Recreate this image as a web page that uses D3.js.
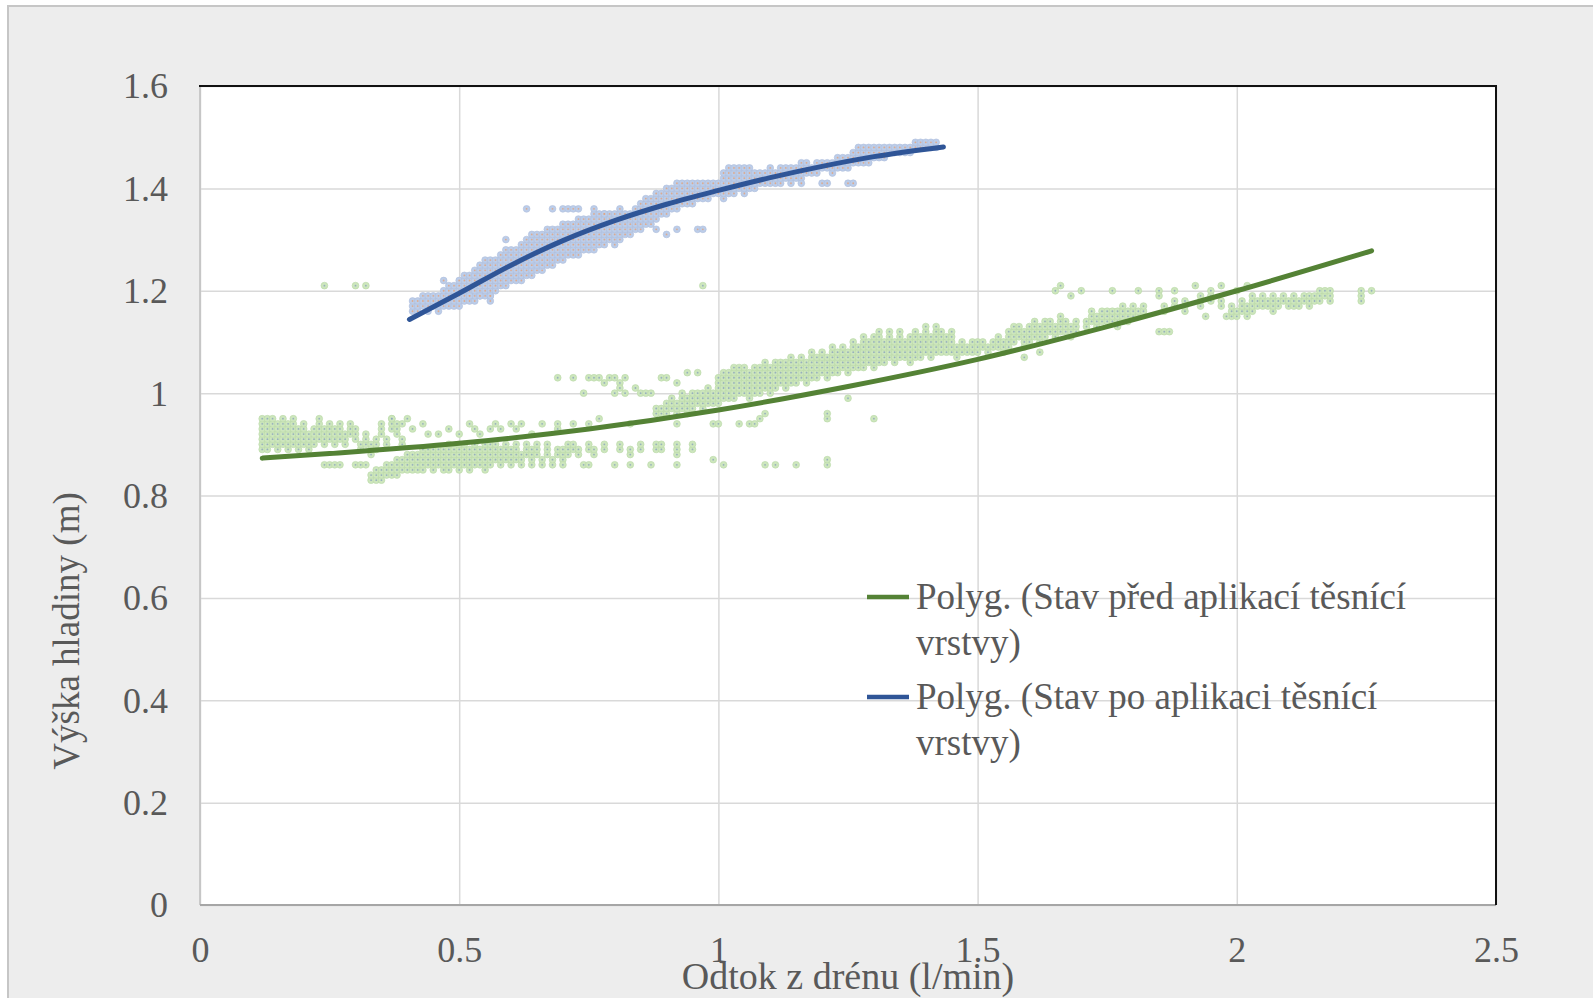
<!DOCTYPE html>
<html>
<head>
<meta charset="utf-8">
<script src="https://cdn.jsdelivr.net/npm/d3@7/dist/d3.min.js"></script>
<style>
  body { margin: 0; background: #ffffff; }
  text { font-family: "Liberation Serif", "DejaVu Serif", serif; fill: #595959; }
</style>
</head>
<body>
<div id="chart"></div>
<script>
// axis ticks
var xTicks = [0, 0.5, 1, 1.5, 2, 2.5];
var yTicks = [0, 0.2, 0.4, 0.6, 0.8, 1, 1.2, 1.4, 1.6];
var xTitle = "Odtok z drénu (l/min)";
var yTitle = "Výška hladiny (m)";
var legendNames = ["Polyg. (Stav před aplikací těsnící|vrstvy)", "Polyg. (Stav po aplikaci těsnící|vrstvy)"];

// scatter "after" (blue): vertical runs of readings [x, yLow, yHigh], 0.01 m resolution
var afterRuns = [
  [0.41,1.16,1.18],[0.42,1.16,1.18],[0.43,1.17,1.19],[0.44,1.16,1.19],[0.45,1.17,1.19],[0.46,1.16,1.19],
  [0.47,1.17,1.20],[0.48,1.17,1.21],[0.49,1.17,1.21],[0.50,1.17,1.22],[0.51,1.18,1.23],[0.52,1.18,1.23],
  [0.53,1.18,1.24],[0.54,1.19,1.25],[0.55,1.19,1.26],[0.56,1.18,1.26],[0.57,1.20,1.26],[0.58,1.21,1.27],
  [0.59,1.21,1.28],[0.60,1.22,1.28],[0.61,1.22,1.28],[0.62,1.22,1.29],[0.63,1.23,1.30],[0.64,1.23,1.31],
  [0.65,1.24,1.31],[0.66,1.24,1.31],[0.67,1.25,1.32],[0.68,1.25,1.32],[0.69,1.26,1.32],[0.70,1.26,1.33],
  [0.71,1.27,1.33],[0.72,1.27,1.33],[0.73,1.27,1.34],[0.74,1.28,1.34],[0.75,1.28,1.34],[0.76,1.28,1.35],
  [0.77,1.29,1.35],[0.78,1.29,1.35],[0.79,1.30,1.35],[0.80,1.29,1.35],[0.81,1.30,1.36],[0.82,1.31,1.35],
  [0.83,1.31,1.35],[0.84,1.32,1.36],[0.85,1.32,1.37],[0.86,1.33,1.38],[0.87,1.33,1.38],[0.88,1.34,1.39],
  [0.89,1.35,1.39],[0.90,1.35,1.40],[0.91,1.36,1.40],[0.92,1.36,1.41],[0.93,1.37,1.41],[0.94,1.37,1.41],
  [0.95,1.37,1.41],[0.96,1.38,1.41],[0.97,1.38,1.41],[0.98,1.38,1.41],[0.99,1.39,1.41],[1.00,1.39,1.41],
  [1.01,1.38,1.43],[1.02,1.39,1.44],[1.03,1.39,1.44],[1.04,1.40,1.44],[1.05,1.39,1.44],[1.06,1.40,1.44],
  [1.07,1.40,1.43],[1.08,1.41,1.43],[1.09,1.41,1.43],[1.10,1.41,1.44],[1.11,1.41,1.43],[1.12,1.41,1.44],
  [1.13,1.42,1.44],[1.14,1.42,1.44],[1.15,1.42,1.44],[1.16,1.42,1.45],[1.17,1.43,1.45],[1.18,1.43,1.44],
  [1.19,1.43,1.45],[1.20,1.44,1.45],[1.21,1.44,1.45],[1.22,1.43,1.45],[1.23,1.44,1.46],[1.24,1.44,1.46],
  [1.25,1.44,1.46],[1.26,1.45,1.47],[1.27,1.45,1.48],[1.28,1.45,1.48],[1.29,1.45,1.48],[1.30,1.46,1.48],
  [1.31,1.46,1.48],[1.32,1.46,1.48],[1.33,1.47,1.48],[1.34,1.47,1.48],[1.35,1.47,1.48],[1.36,1.47,1.48],
  [1.37,1.47,1.48],[1.38,1.48,1.49],[1.39,1.48,1.49],[1.40,1.48,1.49],[1.41,1.48,1.49],[1.42,1.48,1.49]
];
var afterPoints = [
  [0.47,1.22],[0.52,1.19],[0.54,1.19],[0.56,1.19],[0.59,1.30],[0.63,1.36],[0.68,1.36],[0.70,1.36],
  [0.71,1.36],[0.72,1.36],[0.73,1.36],[0.76,1.36],[0.78,1.35],[0.88,1.32],[0.90,1.31],[0.92,1.32],
  [0.96,1.32],[0.97,1.32],[1.14,1.41],[1.16,1.41],[1.20,1.41],[1.21,1.41],[1.25,1.41],[1.26,1.41]
];

// scatter "before" (green)
var beforeRuns = [
  [0.12,0.89,0.95],[0.13,0.89,0.95],[0.14,0.90,0.95],[0.15,0.89,0.94],[0.16,0.90,0.95],[0.17,0.89,0.94],
  [0.18,0.90,0.95],[0.19,0.89,0.93],[0.20,0.90,0.94],[0.21,0.89,0.92],[0.22,0.90,0.93],[0.23,0.91,0.95],
  [0.24,0.90,0.93],[0.25,0.91,0.94],[0.26,0.90,0.93],[0.27,0.91,0.94],[0.28,0.90,0.92],[0.29,0.92,0.94],
  [0.30,0.91,0.93],[0.31,0.89,0.90],[0.32,0.90,0.92],[0.33,0.88,0.90],[0.34,0.89,0.91],[0.35,0.92,0.94],
  [0.36,0.90,0.91],[0.37,0.93,0.95],[0.38,0.92,0.94],[0.39,0.90,0.91],
  [0.33,0.83,0.84],[0.34,0.83,0.85],[0.35,0.83,0.85],[0.36,0.84,0.86],[0.37,0.84,0.86],[0.38,0.84,0.87],
  [0.39,0.85,0.87],[0.40,0.85,0.88],[0.41,0.85,0.88],[0.42,0.85,0.88],[0.43,0.85,0.89],[0.44,0.86,0.89],
  [0.45,0.85,0.89],[0.46,0.86,0.89],[0.47,0.85,0.89],[0.48,0.85,0.90],[0.49,0.86,0.89],[0.50,0.85,0.90],
  [0.51,0.86,0.90],[0.52,0.85,0.89],[0.53,0.86,0.90],[0.54,0.86,0.89],[0.55,0.85,0.90],[0.56,0.86,0.90],
  [0.57,0.87,0.90],[0.58,0.86,0.89],[0.59,0.87,0.90],[0.60,0.86,0.89],[0.61,0.87,0.90],[0.62,0.86,0.88],
  [0.63,0.88,0.90],[0.64,0.86,0.89],[0.65,0.88,0.90],[0.66,0.86,0.87],[0.67,0.88,0.90],[0.68,0.86,0.87],
  [0.69,0.88,0.89],[0.70,0.87,0.89],[0.71,0.88,0.90],[0.72,0.89,0.90],[0.73,0.88,0.89],[0.75,0.89,0.90],
  [0.76,0.88,0.89],[0.78,0.89,0.90],[0.81,0.89,0.90],[0.83,0.88,0.89],[0.85,0.89,0.90],[0.88,0.89,0.90],
  [0.89,0.89,0.90],[0.92,0.88,0.90],[0.95,0.89,0.90],
  [0.88,0.96,0.97],[0.89,0.96,0.97],[0.90,0.96,0.98],[0.91,0.97,0.99],[0.92,0.96,0.98],[0.93,0.97,1.00],
  [0.94,0.96,0.99],[0.95,0.97,1.00],[0.96,0.98,1.00],[0.97,0.97,1.00],[0.98,0.98,1.01],[0.99,0.98,1.00],
  [1.00,0.98,1.03],[1.01,0.99,1.04],[1.02,0.99,1.04],[1.03,0.99,1.05],[1.04,1.00,1.05],[1.05,1.00,1.05],
  [1.06,0.99,1.04],[1.07,1.00,1.05],[1.08,1.00,1.05],[1.09,1.01,1.06],[1.10,1.00,1.05],[1.11,1.01,1.06],
  [1.12,1.02,1.06],[1.13,1.01,1.06],[1.14,1.02,1.07],[1.15,1.02,1.06],[1.16,1.03,1.07],[1.17,1.02,1.06],
  [1.18,1.03,1.08],[1.19,1.03,1.07],[1.20,1.04,1.08],[1.21,1.03,1.07],[1.22,1.04,1.09],[1.23,1.04,1.08],
  [1.24,1.05,1.09],[1.25,1.04,1.08],[1.26,1.05,1.10],[1.27,1.05,1.09],[1.28,1.05,1.11],[1.29,1.06,1.10],
  [1.30,1.05,1.11],[1.31,1.06,1.12],[1.32,1.06,1.10],[1.33,1.07,1.12],[1.34,1.06,1.10],[1.35,1.07,1.12],
  [1.36,1.07,1.10],[1.37,1.06,1.11],[1.38,1.07,1.12],[1.39,1.07,1.11],[1.40,1.08,1.13],[1.41,1.07,1.11],
  [1.42,1.08,1.13],[1.43,1.08,1.12],[1.44,1.08,1.11],[1.45,1.08,1.12],[1.46,1.07,1.09],[1.47,1.08,1.10],
  [1.48,1.08,1.09],[1.49,1.08,1.10],[1.50,1.08,1.10],[1.51,1.09,1.10],[1.52,1.08,1.09],[1.53,1.09,1.10],
  [1.54,1.09,1.11],[1.55,1.08,1.10],[1.56,1.09,1.12],[1.57,1.10,1.13],[1.58,1.11,1.13],[1.59,1.09,1.12],
  [1.60,1.10,1.13],[1.61,1.11,1.14],[1.62,1.10,1.13],[1.63,1.11,1.14],[1.64,1.12,1.14],[1.65,1.11,1.13],
  [1.66,1.12,1.15],[1.67,1.12,1.14],[1.68,1.11,1.13],[1.69,1.12,1.14],[1.71,1.13,1.14],[1.72,1.14,1.16],
  [1.73,1.13,1.15],[1.74,1.14,1.16],[1.75,1.14,1.16],[1.76,1.14,1.16],[1.77,1.13,1.16],[1.78,1.14,1.17],
  [1.79,1.14,1.16],[1.80,1.15,1.17],[1.81,1.15,1.16],[1.82,1.16,1.17],[1.86,1.16,1.17],[1.88,1.17,1.18],
  [1.90,1.16,1.18],[1.93,1.17,1.19],[1.95,1.18,1.19],[1.97,1.17,1.18],[1.99,1.15,1.17],[2.00,1.15,1.16],
  [2.01,1.16,1.18],[2.02,1.15,1.17],[2.03,1.16,1.19],[2.04,1.17,1.18],[2.05,1.17,1.19],[2.06,1.17,1.18],
  [2.07,1.16,1.19],[2.08,1.17,1.18],[2.09,1.18,1.19],[2.10,1.17,1.18],[2.11,1.17,1.19],[2.12,1.17,1.18],
  [2.13,1.18,1.19],[2.14,1.17,1.19],[2.15,1.18,1.19],[2.16,1.18,1.20],[2.17,1.19,1.20],[2.18,1.18,1.20],
  [2.24,1.18,1.20]
];
var beforePoints = [
  [0.24,1.21],[0.30,1.21],[0.32,1.21],[0.97,1.21],[2.26,1.20],
  [0.24,0.86],[0.25,0.86],[0.26,0.86],[0.27,0.86],[0.30,0.86],[0.31,0.86],[0.32,0.86],
  [0.37,0.95],[0.39,0.94],[0.40,0.95],[0.41,0.93],[0.43,0.94],[0.44,0.92],[0.46,0.92],[0.48,0.93],
  [0.50,0.92],[0.52,0.94],[0.53,0.93],[0.54,0.92],[0.56,0.93],[0.57,0.94],[0.58,0.93],[0.60,0.94],
  [0.61,0.93],[0.62,0.94],[0.64,0.92],[0.66,0.94],[0.69,0.93],
  [0.69,1.03],[0.72,1.03],[0.75,1.03],[0.76,1.03],[0.77,1.03],[0.78,1.02],[0.79,1.03],[0.80,1.03],
  [0.81,1.02],[0.82,1.03],[0.89,1.03],[0.90,1.03],[0.92,1.02],[0.94,1.04],[0.96,1.04],
  [0.74,1.00],[0.80,1.00],[0.81,1.01],[0.82,1.00],[0.84,1.01],[0.85,1.00],[0.86,1.00],[0.87,1.00],
  [0.69,0.94],[0.72,0.94],[0.75,0.94],[0.77,0.95],[0.83,0.94],[0.92,0.94],[0.99,0.94],[1.00,0.94],
  [1.04,0.94],[1.06,0.94],[1.07,0.94],[1.08,0.95],[1.09,0.96],
  [0.70,0.86],[0.74,0.86],[0.75,0.86],[0.80,0.86],[0.83,0.86],[0.87,0.86],[0.92,0.86],[0.99,0.87],
  [1.01,0.86],[1.09,0.86],[1.11,0.86],[1.15,0.86],[1.21,0.86],[1.21,0.87],
  [1.21,0.95],[1.21,0.96],[1.25,0.99],[1.30,0.95],
  [1.59,1.07],[1.62,1.08],[1.65,1.20],[1.66,1.21],[1.68,1.19],[1.70,1.20],[1.76,1.20],[1.81,1.20],
  [1.85,1.20],[1.85,1.19],[1.88,1.20],[1.92,1.21],[1.95,1.20],[1.97,1.21],[2.00,1.20],[2.02,1.21],
  [1.85,1.12],[1.86,1.12],[1.87,1.12],[1.94,1.15],[1.98,1.15]
];

// polynomial trend lines
var beforeTrend = [[0.12,0.873],[0.25,0.882],[0.5,0.902],[0.75,0.930],[1.0,0.967],[1.25,1.013],
                   [1.5,1.066],[1.75,1.130],[2.0,1.200],[2.26,1.278]];
var afterTrend = [[0.404,1.144],[0.5,1.195],[0.6,1.250],[0.7,1.298],[0.8,1.337],[0.9,1.369],
                  [1.0,1.396],[1.1,1.421],[1.2,1.443],[1.3,1.462],[1.434,1.481]];

var width = 1593, height = 998;
var margin = {top: 86, right: 97, bottom: 93, left: 200};
var widthG = width - margin.left - margin.right;
var heightG = height - margin.top - margin.bottom;

var svg = d3.select("#chart").append("svg")
  .attr("width", width)
  .attr("height", height)
  .style("display", "block");

// chart frame
svg.append("rect")
  .attr("x", 8).attr("y", 6)
  .attr("width", width).attr("height", height)
  .attr("fill", "#ededed")
  .attr("stroke", "#c6c6c6")
  .attr("stroke-width", 2);

var g = svg.append("g")
  .attr("transform", "translate(" + margin.left + "," + margin.top + ")");

var x = d3.scaleLinear().domain([0, 2.5]).range([0, widthG]);
var y = d3.scaleLinear().domain([0, 1.6]).range([heightG, 0]);

g.append("rect")
  .attr("width", widthG).attr("height", heightG)
  .attr("fill", "#ffffff");

// gridlines
var gx = g.append("g")
  .attr("transform", "translate(0," + heightG + ")")
  .call(d3.axisBottom(x).tickValues(xTicks).tickSize(-heightG).tickFormat(""));
var gy = g.append("g")
  .call(d3.axisLeft(y).tickValues(yTicks).tickSize(-widthG).tickFormat(""));
[gx, gy].forEach(function(a) {
  a.select(".domain").remove();
  a.selectAll("line").attr("stroke", "#d9d9d9").attr("stroke-width", 1.5);
});

// plot border: gray left/bottom, black top/right
g.append("line").attr("x1", 0).attr("x2", 0).attr("y1", 0).attr("y2", heightG)
  .attr("stroke", "#bfbfbf").attr("stroke-width", 1.5);
g.append("line").attr("x1", 0).attr("x2", widthG).attr("y1", heightG).attr("y2", heightG)
  .attr("stroke", "#a6a6a6").attr("stroke-width", 2);
g.append("line").attr("x1", -1).attr("x2", widthG + 1).attr("y1", 0).attr("y2", 0)
  .attr("stroke", "#111").attr("stroke-width", 2);
g.append("line").attr("x1", widthG).attr("x2", widthG).attr("y1", 0).attr("y2", heightG)
  .attr("stroke", "#111").attr("stroke-width", 2);

function expand(runs, pts) {
  var out = [];
  runs.forEach(function(r) {
    for (var k = Math.round(r[1] * 100); k <= Math.round(r[2] * 100); k++) {
      out.push([r[0], k / 100]);
    }
  });
  return out.concat(pts);
}

function drawDots(data, fill, stroke, centre) {
  var dg = g.append("g");
  dg.selectAll(".dot")
    .data(data)
    .enter()
    .append("circle")
    .attr("class", "dot")
    .attr("cx", function(d) { return x(d[0]); })
    .attr("cy", function(d) { return y(d[1]); })
    .attr("r", 3.4)
    .attr("fill", fill)
    .attr("stroke", stroke)
    .attr("stroke-width", 0.6);
  dg.selectAll(".dotc")
    .data(data)
    .enter()
    .append("circle")
    .attr("class", "dotc")
    .attr("cx", function(d) { return x(d[0]); })
    .attr("cy", function(d) { return y(d[1]); })
    .attr("r", 0.9)
    .attr("fill", centre)
    .attr("opacity", 0.8);
}

drawDots(expand(beforeRuns, beforePoints), "#cde6bd", "#b9d9a6", "#8aa3bd");
drawDots(expand(afterRuns, afterPoints), "#bccde9", "#aebedc", "#e3a27a");

var line = d3.line()
  .x(function(d) { return x(d[0]); })
  .y(function(d) { return y(d[1]); })
  .curve(d3.curveMonotoneX);

g.append("path").datum(beforeTrend)
  .attr("d", line).attr("fill", "none")
  .attr("stroke", "#548235").attr("stroke-width", 5).attr("stroke-linecap", "round");
g.append("path").datum(afterTrend)
  .attr("d", line).attr("fill", "none")
  .attr("stroke", "#2f5597").attr("stroke-width", 5).attr("stroke-linecap", "round");

// tick labels
var xl = g.append("g")
  .attr("transform", "translate(0," + heightG + ")")
  .call(d3.axisBottom(x).tickValues(xTicks).tickSize(0).tickPadding(57).tickFormat(function(d) { return String(d); }));
var yl = g.append("g")
  .call(d3.axisLeft(y).tickValues(yTicks).tickSize(0).tickPadding(32).tickFormat(function(d) { return String(d); }));
[xl, yl].forEach(function(a) {
  a.select(".domain").remove();
  a.selectAll("text")
    .style("font-size", "36px")
    .style("font-family", "'Liberation Serif', serif")
    .attr("fill", "#595959");
});
yl.selectAll("text").attr("dy", "0.33em");
xl.selectAll("text").attr("dy", "0");

// axis titles
svg.append("text")
  .attr("x", margin.left + widthG / 2)
  .attr("y", 989)
  .attr("text-anchor", "middle")
  .style("font-size", "38px")
  .text(xTitle);
svg.append("text")
  .attr("transform", "translate(79,631) rotate(-90)")
  .attr("text-anchor", "middle")
  .style("font-size", "37px")
  .text(yTitle);

// legend
var legendColours = ["#548235", "#2f5597"];
var legendY = [597, 697];
legendNames.forEach(function(name, i) {
  var lg = svg.append("g").attr("transform", "translate(867," + legendY[i] + ")");
  lg.append("line").attr("x1", 0).attr("x2", 42).attr("y1", 0).attr("y2", 0)
    .attr("stroke", legendColours[i]).attr("stroke-width", 4.5);
  var parts = name.split("|");
  parts.forEach(function(p, j) {
    lg.append("text")
      .attr("x", 49)
      .attr("y", 12 + j * 46)
      .style("font-size", "37px")
      .text(p);
  });
});
</script>
</body>
</html>
